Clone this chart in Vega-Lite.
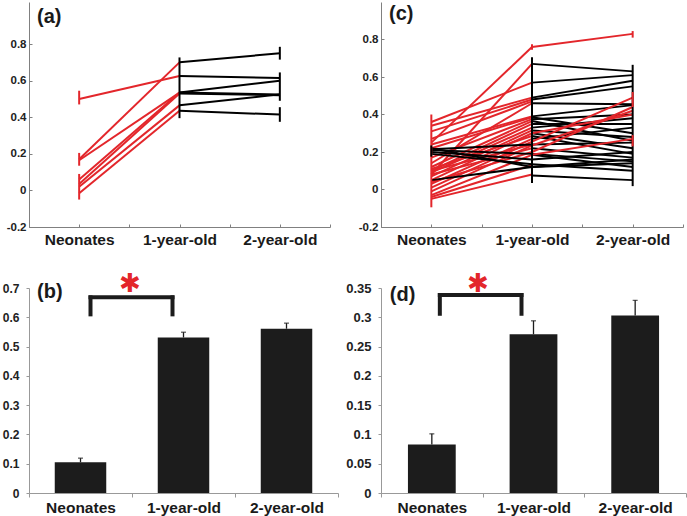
{
  "$schema": "https://vega.github.io/schema/vega-lite/v6.json",
  "autosize": {"type": "none"},
  "padding": {"left": 29, "top": 2, "right": 658, "bottom": 514},
  "background": "white",
  "config": {
    "view": {"stroke": null},
    "font": "Liberation Sans",
    "axis": {"grid": false, "labelFont": "Liberation Sans", "labelFontWeight": "bold", "labelOverlap": false, "labelFlush": false}
  },
  "datasets": {
    "a_lines": [
      {"s": "a1", "x": 1, "v": 0.50, "c": "red"}, {"s": "a1", "x": 2, "v": 0.625, "c": "red"},
      {"s": "a2", "x": 1, "v": 0.17, "c": "red"}, {"s": "a2", "x": 2, "v": 0.70, "c": "red"},
      {"s": "a3", "x": 1, "v": 0.165, "c": "red"}, {"s": "a3", "x": 2, "v": 0.535, "c": "red"},
      {"s": "a4", "x": 1, "v": 0.06, "c": "red"}, {"s": "a4", "x": 2, "v": 0.535, "c": "red"},
      {"s": "a5", "x": 1, "v": 0.035, "c": "red"}, {"s": "a5", "x": 2, "v": 0.53, "c": "red"},
      {"s": "a6", "x": 1, "v": 0.02, "c": "red"}, {"s": "a6", "x": 2, "v": 0.465, "c": "red"},
      {"s": "a7", "x": 1, "v": -0.015, "c": "red"}, {"s": "a7", "x": 2, "v": 0.435, "c": "red"},
      {"s": "b1", "x": 2, "v": 0.70, "c": "black"}, {"s": "b1", "x": 3, "v": 0.75, "c": "black"},
      {"s": "b2", "x": 2, "v": 0.625, "c": "black"}, {"s": "b2", "x": 3, "v": 0.615, "c": "black"},
      {"s": "b3", "x": 2, "v": 0.535, "c": "black"}, {"s": "b3", "x": 3, "v": 0.60, "c": "black"},
      {"s": "b4", "x": 2, "v": 0.535, "c": "black"}, {"s": "b4", "x": 3, "v": 0.525, "c": "black"},
      {"s": "b5", "x": 2, "v": 0.53, "c": "black"}, {"s": "b5", "x": 3, "v": 0.52, "c": "black"},
      {"s": "b6", "x": 2, "v": 0.465, "c": "black"}, {"s": "b6", "x": 3, "v": 0.525, "c": "black"},
      {"s": "b7", "x": 2, "v": 0.435, "c": "black"}, {"s": "b7", "x": 3, "v": 0.415, "c": "black"}
    ],
    "a_err": [
      {"x": 1, "lo": 0.47, "hi": 0.545, "c": "red"},
      {"x": 1, "lo": 0.135, "hi": 0.205, "c": "red"},
      {"x": 1, "lo": -0.05, "hi": 0.09, "c": "red"},
      {"x": 2, "lo": 0.395, "hi": 0.727, "c": "black"},
      {"x": 3, "lo": 0.715, "hi": 0.785, "c": "black"},
      {"x": 3, "lo": 0.49, "hi": 0.645, "c": "black"},
      {"x": 3, "lo": 0.375, "hi": 0.455, "c": "black"}
    ],
    "c_lines": [
      {"s": "c1", "x": 1, "v": 0.25, "c": "red"}, {"s": "c1", "x": 2, "v": 0.76, "c": "red"},
      {"s": "c2", "x": 1, "v": 0.08, "c": "red"}, {"s": "c2", "x": 2, "v": 0.67, "c": "red"},
      {"s": "c3", "x": 1, "v": 0.36, "c": "red"}, {"s": "c3", "x": 2, "v": 0.57, "c": "red"},
      {"s": "c4", "x": 1, "v": 0.34, "c": "red"}, {"s": "c4", "x": 2, "v": 0.49, "c": "red"},
      {"s": "c5", "x": 1, "v": 0.31, "c": "red"}, {"s": "c5", "x": 2, "v": 0.48, "c": "red"},
      {"s": "c6", "x": 1, "v": 0.27, "c": "red"}, {"s": "c6", "x": 2, "v": 0.47, "c": "red"},
      {"s": "c7", "x": 1, "v": 0.14, "c": "red"}, {"s": "c7", "x": 2, "v": 0.46, "c": "red"},
      {"s": "c8", "x": 1, "v": 0.24, "c": "red"}, {"s": "c8", "x": 2, "v": 0.39, "c": "red"},
      {"s": "c9", "x": 1, "v": 0.22, "c": "red"}, {"s": "c9", "x": 2, "v": 0.385, "c": "red"},
      {"s": "c10", "x": 1, "v": 0.17, "c": "red"}, {"s": "c10", "x": 2, "v": 0.375, "c": "red"},
      {"s": "c11", "x": 1, "v": 0.12, "c": "red"}, {"s": "c11", "x": 2, "v": 0.365, "c": "red"},
      {"s": "c12", "x": 1, "v": 0.10, "c": "red"}, {"s": "c12", "x": 2, "v": 0.35, "c": "red"},
      {"s": "c13", "x": 1, "v": 0.09, "c": "red"}, {"s": "c13", "x": 2, "v": 0.33, "c": "red"},
      {"s": "c14", "x": 1, "v": 0.07, "c": "red"}, {"s": "c14", "x": 2, "v": 0.315, "c": "red"},
      {"s": "c15", "x": 1, "v": 0.05, "c": "red"}, {"s": "c15", "x": 2, "v": 0.30, "c": "red"},
      {"s": "c16", "x": 1, "v": 0.11, "c": "red"}, {"s": "c16", "x": 2, "v": 0.285, "c": "red"},
      {"s": "c17", "x": 1, "v": 0.03, "c": "red"}, {"s": "c17", "x": 2, "v": 0.27, "c": "red"},
      {"s": "c18", "x": 1, "v": 0.01, "c": "red"}, {"s": "c18", "x": 2, "v": 0.255, "c": "red"},
      {"s": "c19", "x": 1, "v": -0.01, "c": "red"}, {"s": "c19", "x": 2, "v": 0.235, "c": "red"},
      {"s": "c20", "x": 1, "v": 0.08, "c": "red"}, {"s": "c20", "x": 2, "v": 0.22, "c": "red"},
      {"s": "c21", "x": 1, "v": -0.03, "c": "red"}, {"s": "c21", "x": 2, "v": 0.185, "c": "red"},
      {"s": "c22", "x": 1, "v": -0.04, "c": "red"}, {"s": "c22", "x": 2, "v": 0.13, "c": "red"},
      {"s": "c23", "x": 1, "v": -0.05, "c": "red"}, {"s": "c23", "x": 2, "v": 0.08, "c": "red"},
      {"s": "c24", "x": 1, "v": 0.04, "c": "red"}, {"s": "c24", "x": 2, "v": 0.20, "c": "red"},
      {"s": "c25", "x": 1, "v": 0.10, "c": "red"}, {"s": "c25", "x": 2, "v": 0.24, "c": "red"},
      {"s": "k1", "x": 1, "v": 0.215, "c": "black"}, {"s": "k1", "x": 2, "v": 0.24, "c": "black"},
      {"s": "k2", "x": 1, "v": 0.21, "c": "black"}, {"s": "k2", "x": 2, "v": 0.19, "c": "black"},
      {"s": "k3", "x": 1, "v": 0.20, "c": "black"}, {"s": "k3", "x": 2, "v": 0.16, "c": "black"},
      {"s": "k4", "x": 1, "v": 0.22, "c": "black"}, {"s": "k4", "x": 2, "v": 0.12, "c": "black"},
      {"s": "k5", "x": 1, "v": 0.19, "c": "black"}, {"s": "k5", "x": 2, "v": 0.135, "c": "black"},
      {"s": "k6", "x": 1, "v": 0.05, "c": "black"}, {"s": "k6", "x": 2, "v": 0.12, "c": "black"},
      {"s": "m1", "x": 2, "v": 0.67, "c": "black"}, {"s": "m1", "x": 3, "v": 0.63, "c": "black"},
      {"s": "m2", "x": 2, "v": 0.57, "c": "black"}, {"s": "m2", "x": 3, "v": 0.61, "c": "black"},
      {"s": "m3", "x": 2, "v": 0.49, "c": "black"}, {"s": "m3", "x": 3, "v": 0.58, "c": "black"},
      {"s": "m4", "x": 2, "v": 0.48, "c": "black"}, {"s": "m4", "x": 3, "v": 0.55, "c": "black"},
      {"s": "m5", "x": 2, "v": 0.46, "c": "black"}, {"s": "m5", "x": 3, "v": 0.455, "c": "black"},
      {"s": "m6", "x": 2, "v": 0.39, "c": "black"}, {"s": "m6", "x": 3, "v": 0.45, "c": "black"},
      {"s": "m7", "x": 2, "v": 0.385, "c": "black"}, {"s": "m7", "x": 3, "v": 0.30, "c": "black"},
      {"s": "m8", "x": 2, "v": 0.375, "c": "black"}, {"s": "m8", "x": 3, "v": 0.40, "c": "black"},
      {"s": "m9", "x": 2, "v": 0.365, "c": "black"}, {"s": "m9", "x": 3, "v": 0.26, "c": "black"},
      {"s": "m10", "x": 2, "v": 0.35, "c": "black"}, {"s": "m10", "x": 3, "v": 0.35, "c": "black"},
      {"s": "m11", "x": 2, "v": 0.33, "c": "black"}, {"s": "m11", "x": 3, "v": 0.38, "c": "black"},
      {"s": "m12", "x": 2, "v": 0.315, "c": "black"}, {"s": "m12", "x": 3, "v": 0.28, "c": "black"},
      {"s": "m13", "x": 2, "v": 0.30, "c": "black"}, {"s": "m13", "x": 3, "v": 0.22, "c": "black"},
      {"s": "m14", "x": 2, "v": 0.285, "c": "black"}, {"s": "m14", "x": 3, "v": 0.19, "c": "black"},
      {"s": "m15", "x": 2, "v": 0.27, "c": "black"}, {"s": "m15", "x": 3, "v": 0.33, "c": "black"},
      {"s": "m16", "x": 2, "v": 0.24, "c": "black"}, {"s": "m16", "x": 3, "v": 0.25, "c": "black"},
      {"s": "m17", "x": 2, "v": 0.22, "c": "black"}, {"s": "m17", "x": 3, "v": 0.17, "c": "black"},
      {"s": "m18", "x": 2, "v": 0.19, "c": "black"}, {"s": "m18", "x": 3, "v": 0.15, "c": "black"},
      {"s": "m19", "x": 2, "v": 0.185, "c": "black"}, {"s": "m19", "x": 3, "v": 0.12, "c": "black"},
      {"s": "m20", "x": 2, "v": 0.16, "c": "black"}, {"s": "m20", "x": 3, "v": 0.20, "c": "black"},
      {"s": "m21", "x": 2, "v": 0.135, "c": "black"}, {"s": "m21", "x": 3, "v": 0.10, "c": "black"},
      {"s": "m22", "x": 2, "v": 0.12, "c": "black"}, {"s": "m22", "x": 3, "v": 0.16, "c": "black"},
      {"s": "m23", "x": 2, "v": 0.12, "c": "black"}, {"s": "m23", "x": 3, "v": 0.14, "c": "black"},
      {"s": "m24", "x": 2, "v": 0.075, "c": "black"}, {"s": "m24", "x": 3, "v": 0.05, "c": "black"},
      {"s": "r1", "x": 2, "v": 0.76, "c": "red"}, {"s": "r1", "x": 3, "v": 0.83, "c": "red"},
      {"s": "r2", "x": 2, "v": 0.255, "c": "red"}, {"s": "r2", "x": 3, "v": 0.49, "c": "red"},
      {"s": "r3", "x": 2, "v": 0.235, "c": "red"}, {"s": "r3", "x": 3, "v": 0.42, "c": "red"},
      {"s": "r4", "x": 2, "v": 0.30, "c": "red"}, {"s": "r4", "x": 3, "v": 0.40, "c": "red"},
      {"s": "r5", "x": 2, "v": 0.185, "c": "red"}, {"s": "r5", "x": 3, "v": 0.27, "c": "red"},
      {"s": "r6", "x": 2, "v": 0.20, "c": "red"}, {"s": "r6", "x": 3, "v": 0.44, "c": "red"}
    ],
    "c_err": [
      {"x": 1, "lo": -0.095, "hi": 0.40, "c": "red"},
      {"x": 1, "lo": 0.175, "hi": 0.235, "c": "black"},
      {"x": 2, "lo": 0.035, "hi": 0.705, "c": "black"},
      {"x": 2, "lo": 0.745, "hi": 0.775, "c": "red"},
      {"x": 3, "lo": 0.018, "hi": 0.665, "c": "black"},
      {"x": 3, "lo": 0.44, "hi": 0.52, "c": "red"},
      {"x": 3, "lo": 0.23, "hi": 0.29, "c": "red"},
      {"x": 3, "lo": 0.81, "hi": 0.845, "c": "red"}
    ],
    "b_bars": [
      {"g": "Neonates", "m": 0.105, "e": 0.119},
      {"g": "1-year-old", "m": 0.531, "e": 0.549},
      {"g": "2-year-old", "m": 0.561, "e": 0.58}
    ],
    "d_bars": [
      {"g": "Neonates", "m": 0.083, "e": 0.101},
      {"g": "1-year-old", "m": 0.271, "e": 0.294},
      {"g": "2-year-old", "m": 0.303, "e": 0.329}
    ],
    "b_bracket": [{"from": "Neonates", "to": "1-year-old", "lo": 0.61, "hi": 0.668}],
    "d_bracket": [{"from": "Neonates", "to": "1-year-old", "lo": 0.306, "hi": 0.338}]
  },
  "bounds": "flush",
  "columns": 2,
  "spacing": {"row": 61, "column": 43},
  "concat": [
    {
      "width": 301,
      "height": 225,
      "layer": [
        {
          "data": {"name": "a_lines"},
          "mark": {"type": "line", "strokeWidth": 2},
          "encoding": {
            "x": {"field": "x", "type": "quantitative", "scale": {"domain": [0.5, 3.5], "nice": false, "zero": false},
              "axis": {"title": null, "values": [0.5, 1, 1.5, 2, 2.5, 3, 3.5], "labelExpr": "datum.value == 1 ? 'Neonates' : datum.value == 2 ? '1-year-old' : datum.value == 3 ? '2-year-old' : ''", "tickSize": -3, "labelPadding": 8, "labelFontSize": 15.5, "labelColor": "#1a1a1a", "domainColor": "#808080", "tickColor": "#808080"}},
            "y": {"field": "v", "type": "quantitative", "scale": {"domain": [-0.2, 1.03], "nice": false, "zero": false},
              "axis": {"title": null, "values": [-0.2, 0, 0.2, 0.4, 0.6, 0.8], "labelExpr": "datum.value < 0 ? '-' + format(-datum.value, '~g') : format(datum.value, '~g')", "tickSize": -3, "labelPadding": 6, "labelFontSize": 11.5, "labelColor": "#222222", "domainColor": "#808080", "tickColor": "#808080"}},
            "detail": {"field": "s"},
            "color": {"field": "c", "type": "nominal", "scale": {"domain": ["red", "black"], "range": ["#e3262b", "#000000"]}, "legend": null}
          }
        },
        {
          "data": {"name": "a_err"},
          "mark": {"type": "rule", "strokeWidth": 2},
          "encoding": {
            "x": {"field": "x", "type": "quantitative"},
            "y": {"field": "lo", "type": "quantitative"},
            "y2": {"field": "hi"},
            "color": {"field": "c", "type": "nominal", "legend": null}
          }
        },
        {
          "data": {"values": [{"t": "(a)"}]},
          "mark": {"type": "text", "align": "left", "baseline": "middle", "fontSize": 20, "fontWeight": "bold", "color": "#1a1a1a"},
          "encoding": {"text": {"field": "t"}, "x": {"datum": 0.58}, "y": {"datum": 0.948}}
        }
      ]
    },
    {
      "width": 302,
      "height": 225,
      "layer": [
        {
          "data": {"name": "c_lines"},
          "mark": {"type": "line", "strokeWidth": 2},
          "encoding": {
            "x": {"field": "x", "type": "quantitative", "scale": {"domain": [0.5, 3.5], "nice": false, "zero": false},
              "axis": {"title": null, "values": [0.5, 1, 1.5, 2, 2.5, 3, 3.5], "labelExpr": "datum.value == 1 ? 'Neonates' : datum.value == 2 ? '1-year-old' : datum.value == 3 ? '2-year-old' : ''", "tickSize": -3, "labelPadding": 8, "labelFontSize": 15.5, "labelColor": "#1a1a1a", "domainColor": "#808080", "tickColor": "#808080"}},
            "y": {"field": "v", "type": "quantitative", "scale": {"domain": [-0.2, 1.0], "nice": false, "zero": false},
              "axis": {"title": null, "values": [-0.2, 0, 0.2, 0.4, 0.6, 0.8], "labelExpr": "datum.value < 0 ? '-' + format(-datum.value, '~g') : format(datum.value, '~g')", "tickSize": -3, "labelPadding": 6, "labelFontSize": 11.5, "labelColor": "#222222", "domainColor": "#808080", "tickColor": "#808080"}},
            "detail": {"field": "s"},
            "color": {"field": "c", "type": "nominal", "scale": {"domain": ["red", "black"], "range": ["#e3262b", "#000000"]}, "legend": null}
          }
        },
        {
          "data": {"name": "c_err"},
          "mark": {"type": "rule", "strokeWidth": 2},
          "encoding": {
            "x": {"field": "x", "type": "quantitative"},
            "y": {"field": "lo", "type": "quantitative"},
            "y2": {"field": "hi"},
            "color": {"field": "c", "type": "nominal", "legend": null}
          }
        },
        {
          "data": {"values": [{"t": "(c)"}]},
          "mark": {"type": "text", "align": "left", "baseline": "middle", "fontSize": 20, "fontWeight": "bold", "color": "#1a1a1a"},
          "encoding": {"text": {"field": "t"}, "x": {"datum": 0.58}, "y": {"datum": 0.936}}
        }
      ]
    },
    {
      "width": 309,
      "height": 205,
      "layer": [
        {
          "data": {"name": "b_bars"},
          "mark": {"type": "bar", "width": {"band": 0.5}, "color": "#1c1c1c"},
          "encoding": {
            "x": {"field": "g", "type": "nominal", "scale": {"domain": ["Neonates", "1-year-old", "2-year-old"], "paddingInner": 0, "paddingOuter": 0},
              "axis": {"title": null, "tickBand": "extent", "labelAngle": 0, "tickSize": 4, "labelPadding": 3, "labelFontSize": 15.5, "labelColor": "#1a1a1a", "domainColor": "#999999", "tickColor": "#999999"}},
            "y": {"field": "m", "type": "quantitative", "scale": {"domain": [0, 0.7], "nice": false},
              "axis": {"title": null, "values": [0, 0.1, 0.2, 0.3, 0.4, 0.5, 0.6, 0.7], "format": "~g", "tickSize": 3, "labelPadding": 7, "labelFontSize": 12, "labelColor": "#222222", "domainColor": "#999999", "tickColor": "#999999"}}
          }
        },
        {
          "data": {"name": "b_bars"},
          "mark": {"type": "rule", "color": "#1c1c1c", "strokeWidth": 1.3},
          "encoding": {"x": {"field": "g", "type": "nominal"}, "y": {"field": "m", "type": "quantitative", "axis": {"title": null, "values": [0, 0.1, 0.2, 0.3, 0.4, 0.5, 0.6, 0.7], "format": "~g", "tickSize": 3, "labelPadding": 7, "labelFontSize": 12, "labelColor": "#222222", "domainColor": "#999999", "tickColor": "#999999"}}, "y2": {"field": "e"}}
        },
        {
          "data": {"name": "b_bars"},
          "mark": {"type": "tick", "color": "#1c1c1c", "thickness": 1.3, "size": 5},
          "encoding": {"x": {"field": "g", "type": "nominal"}, "y": {"field": "e", "type": "quantitative", "axis": {"title": null, "values": [0, 0.1, 0.2, 0.3, 0.4, 0.5, 0.6, 0.7], "format": "~g", "tickSize": 3, "labelPadding": 7, "labelFontSize": 12, "labelColor": "#222222", "domainColor": "#999999", "tickColor": "#999999"}}}
        },
        {
          "data": {"name": "b_bracket"},
          "mark": {"type": "rule", "color": "#1c1c1c", "strokeWidth": 4, "strokeCap": "square", "xOffset": 10},
          "encoding": {"x": {"field": "from", "type": "nominal"}, "y": {"field": "lo", "type": "quantitative", "axis": {"title": null, "values": [0, 0.1, 0.2, 0.3, 0.4, 0.5, 0.6, 0.7], "format": "~g", "tickSize": 3, "labelPadding": 7, "labelFontSize": 12, "labelColor": "#222222", "domainColor": "#999999", "tickColor": "#999999"}}, "y2": {"field": "hi"}}
        },
        {
          "data": {"name": "b_bracket"},
          "mark": {"type": "rule", "color": "#1c1c1c", "strokeWidth": 4, "strokeCap": "square", "xOffset": -11},
          "encoding": {"x": {"field": "to", "type": "nominal"}, "y": {"field": "lo", "type": "quantitative", "axis": {"title": null, "values": [0, 0.1, 0.2, 0.3, 0.4, 0.5, 0.6, 0.7], "format": "~g", "tickSize": 3, "labelPadding": 7, "labelFontSize": 12, "labelColor": "#222222", "domainColor": "#999999", "tickColor": "#999999"}}, "y2": {"field": "hi"}}
        },
        {
          "data": {"name": "b_bracket"},
          "mark": {"type": "rule", "color": "#1c1c1c", "strokeWidth": 4, "strokeCap": "square", "xOffset": 10, "x2Offset": -11},
          "encoding": {"x": {"field": "from", "type": "nominal"}, "x2": {"field": "to"}, "y": {"field": "hi", "type": "quantitative", "axis": {"title": null, "values": [0, 0.1, 0.2, 0.3, 0.4, 0.5, 0.6, 0.7], "format": "~g", "tickSize": 3, "labelPadding": 7, "labelFontSize": 12, "labelColor": "#222222", "domainColor": "#999999", "tickColor": "#999999"}}}
        },
        {
          "data": {"name": "b_bracket"},
          "mark": {"type": "text", "text": "✱", "font": "DejaVu Sans", "fontSize": 26, "color": "#e3262b", "dx": 49.5, "baseline": "middle", "align": "center"},
          "encoding": {"x": {"field": "from", "type": "nominal"}, "y": {"datum": 0.715, "type": "quantitative", "axis": {"title": null, "values": [0, 0.1, 0.2, 0.3, 0.4, 0.5, 0.6, 0.7], "format": "~g", "tickSize": 3, "labelPadding": 7, "labelFontSize": 12, "labelColor": "#222222", "domainColor": "#999999", "tickColor": "#999999"}}}
        },
        {
          "data": {"values": [{"t": "(b)"}]},
          "mark": {"type": "text", "align": "left", "baseline": "middle", "fontSize": 20, "fontWeight": "bold", "color": "#1a1a1a", "dx": -43.5},
          "encoding": {"text": {"field": "t"}, "x": {"datum": "Neonates"}, "y": {"datum": 0.686, "type": "quantitative", "axis": {"title": null, "values": [0, 0.1, 0.2, 0.3, 0.4, 0.5, 0.6, 0.7], "format": "~g", "tickSize": 3, "labelPadding": 7, "labelFontSize": 12, "labelColor": "#222222", "domainColor": "#999999", "tickColor": "#999999"}}}
        }
      ]
    },
    {
      "width": 305,
      "height": 205,
      "layer": [
        {
          "data": {"name": "d_bars"},
          "mark": {"type": "bar", "width": {"band": 0.47}, "color": "#1c1c1c"},
          "encoding": {
            "x": {"field": "g", "type": "nominal", "scale": {"domain": ["Neonates", "1-year-old", "2-year-old"], "paddingInner": 0, "paddingOuter": 0},
              "axis": {"title": null, "tickBand": "extent", "labelAngle": 0, "tickSize": 4, "labelPadding": 3, "labelFontSize": 15.5, "labelColor": "#1a1a1a", "domainColor": "#999999", "tickColor": "#999999"}},
            "y": {"field": "m", "type": "quantitative", "scale": {"domain": [0, 0.35], "nice": false},
              "axis": {"title": null, "values": [0, 0.05, 0.1, 0.15, 0.2, 0.25, 0.3, 0.35], "format": "~g", "tickSize": 3, "labelPadding": 7, "labelFontSize": 13, "labelColor": "#222222", "domainColor": "#999999", "tickColor": "#999999"}}
          }
        },
        {
          "data": {"name": "d_bars"},
          "mark": {"type": "rule", "color": "#1c1c1c", "strokeWidth": 1.3},
          "encoding": {"x": {"field": "g", "type": "nominal"}, "y": {"field": "m", "type": "quantitative", "axis": {"title": null, "values": [0, 0.05, 0.1, 0.15, 0.2, 0.25, 0.3, 0.35], "format": "~g", "tickSize": 3, "labelPadding": 7, "labelFontSize": 13, "labelColor": "#222222", "domainColor": "#999999", "tickColor": "#999999"}}, "y2": {"field": "e"}}
        },
        {
          "data": {"name": "d_bars"},
          "mark": {"type": "tick", "color": "#1c1c1c", "thickness": 1.3, "size": 5},
          "encoding": {"x": {"field": "g", "type": "nominal"}, "y": {"field": "e", "type": "quantitative", "axis": {"title": null, "values": [0, 0.05, 0.1, 0.15, 0.2, 0.25, 0.3, 0.35], "format": "~g", "tickSize": 3, "labelPadding": 7, "labelFontSize": 13, "labelColor": "#222222", "domainColor": "#999999", "tickColor": "#999999"}}}
        },
        {
          "data": {"name": "d_bracket"},
          "mark": {"type": "rule", "color": "#1c1c1c", "strokeWidth": 4, "strokeCap": "square", "xOffset": 8},
          "encoding": {"x": {"field": "from", "type": "nominal"}, "y": {"field": "lo", "type": "quantitative", "axis": {"title": null, "values": [0, 0.05, 0.1, 0.15, 0.2, 0.25, 0.3, 0.35], "format": "~g", "tickSize": 3, "labelPadding": 7, "labelFontSize": 13, "labelColor": "#222222", "domainColor": "#999999", "tickColor": "#999999"}}, "y2": {"field": "hi"}}
        },
        {
          "data": {"name": "d_bracket"},
          "mark": {"type": "rule", "color": "#1c1c1c", "strokeWidth": 4, "strokeCap": "square", "xOffset": -12},
          "encoding": {"x": {"field": "to", "type": "nominal"}, "y": {"field": "lo", "type": "quantitative", "axis": {"title": null, "values": [0, 0.05, 0.1, 0.15, 0.2, 0.25, 0.3, 0.35], "format": "~g", "tickSize": 3, "labelPadding": 7, "labelFontSize": 13, "labelColor": "#222222", "domainColor": "#999999", "tickColor": "#999999"}}, "y2": {"field": "hi"}}
        },
        {
          "data": {"name": "d_bracket"},
          "mark": {"type": "rule", "color": "#1c1c1c", "strokeWidth": 4, "strokeCap": "square", "xOffset": 8, "x2Offset": -12},
          "encoding": {"x": {"field": "from", "type": "nominal"}, "x2": {"field": "to"}, "y": {"field": "hi", "type": "quantitative", "axis": {"title": null, "values": [0, 0.05, 0.1, 0.15, 0.2, 0.25, 0.3, 0.35], "format": "~g", "tickSize": 3, "labelPadding": 7, "labelFontSize": 13, "labelColor": "#222222", "domainColor": "#999999", "tickColor": "#999999"}}}
        },
        {
          "data": {"name": "d_bracket"},
          "mark": {"type": "text", "text": "✱", "font": "DejaVu Sans", "fontSize": 26, "color": "#e3262b", "dx": 46, "baseline": "middle", "align": "center"},
          "encoding": {"x": {"field": "from", "type": "nominal"}, "y": {"datum": 0.357, "type": "quantitative", "axis": {"title": null, "values": [0, 0.05, 0.1, 0.15, 0.2, 0.25, 0.3, 0.35], "format": "~g", "tickSize": 3, "labelPadding": 7, "labelFontSize": 13, "labelColor": "#222222", "domainColor": "#999999", "tickColor": "#999999"}}}
        },
        {
          "data": {"values": [{"t": "(d)"}]},
          "mark": {"type": "text", "align": "left", "baseline": "middle", "fontSize": 20, "fontWeight": "bold", "color": "#1a1a1a", "dx": -42},
          "encoding": {"text": {"field": "t"}, "x": {"datum": "Neonates"}, "y": {"datum": 0.338, "type": "quantitative", "axis": {"title": null, "values": [0, 0.05, 0.1, 0.15, 0.2, 0.25, 0.3, 0.35], "format": "~g", "tickSize": 3, "labelPadding": 7, "labelFontSize": 13, "labelColor": "#222222", "domainColor": "#999999", "tickColor": "#999999"}}}
        }
      ]
    }
  ]
}
